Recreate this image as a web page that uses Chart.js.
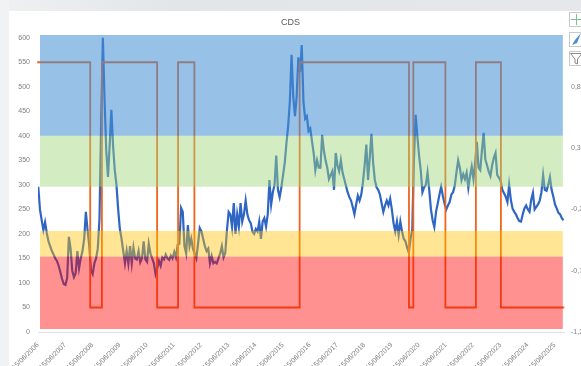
<!DOCTYPE html>
<html>
<head>
<meta charset="utf-8">
<title>CDS</title>
<script src="https://cdn.jsdelivr.net/npm/chart.js@4"></script>
<style>
    html, body { margin: 0; padding: 0; background: #ffffff; overflow: hidden; }
    #topBar { position: fixed; left: 0; top: 0; width: 581px; height: 11px; background: linear-gradient(90deg, #eef0f2, #e3e6e9 30%, #e5e7ea); }
    #leftBar { position: fixed; left: 0; top: 0; width: 9px; height: 366px; background: #f0f2f4; }
    #wrap { position: fixed; left: 0; top: 0; width: 581px; height: 366px; filter: blur(0.5px); }
    #buttons { position: fixed; left: 569px; top: 12px; }
</style>
</head>
<body>
<div id="topBar"></div>
<div id="leftBar"></div>
<div id="wrap"><canvas id="cdsChart" width="581" height="366"></canvas></div>
<svg id="buttons" width="12" height="56">
    <rect x="0.5" y="0.5" width="15" height="14" fill="#fff" stroke="#c9c9c9"/>
    <path d="M7.5 2V13M2 7.5H14" stroke="#7fbf8f" fill="none"/>
    <rect x="0.5" y="20.5" width="15" height="14" fill="#fff" stroke="#c9c9c9"/>
    <path d="M3 33L6 28L12 21L8 31Z" fill="#4a90d0"/>
    <rect x="0.5" y="39.5" width="15" height="14" fill="#fff" stroke="#c9c9c9"/>
    <path d="M1.5 41.5H13L8.5 47V52L6 51V47Z" fill="#fff" stroke="#8a8a8a"/>
</svg>
<script>
const title = "CDS";

// x ticks, one per year on 15/06
const yearTicks = [2006.45, 2007.45, 2008.45, 2009.45, 2010.45, 2011.45, 2012.45, 2013.45, 2014.45, 2015.45,
    2016.45, 2017.45, 2018.45, 2019.45, 2020.45, 2021.45, 2022.45, 2023.45, 2024.45, 2025.45];
const yearLabels = ["15/06/2006", "15/06/2007", "15/06/2008", "15/06/2009", "15/06/2010", "15/06/2011", "15/06/2012",
    "15/06/2013", "15/06/2014", "15/06/2015", "15/06/2016", "15/06/2017", "15/06/2018", "15/06/2019", "15/06/2020",
    "15/06/2021", "15/06/2022", "15/06/2023", "15/06/2024", "15/06/2025"];
const leftTicks = [0, 50, 100, 150, 200, 250, 300, 350, 400, 450, 500, 550, 600];
const rightTicks = [-1.2, -0.7, -0.2, 0.3, 0.8];

// CDS level, 16 readings a year from mid 2006
const cdsStart = 2006.46;
const cdsPerYear = 16;
const cdsValues = [
    296, 250, 228, 208, 224, 202, 185, 175, 165, 158, 150, 145, 135, 122, 108, 98,
    96, 110, 194, 170, 125, 112, 120, 165, 130, 150, 165, 190, 245, 208, 175, 126,
    118, 140, 150, 170, 230, 430, 600, 473, 370, 316, 380, 453, 380, 330, 300, 250,
    210, 190, 165, 140, 165, 140, 175, 140, 172, 150, 148, 165, 142, 150, 185, 148,
    143, 180, 160, 150, 140, 118, 130, 145, 135, 152, 148, 158, 150, 147, 156, 150,
    163, 152, 178, 180, 253, 245, 175, 160, 218, 175, 190, 170, 160, 150, 180, 212,
    205, 190, 175, 165, 170, 140, 155, 140, 143, 140, 150, 160, 175, 152, 161, 208,
    245, 240, 214, 263, 200, 240, 215, 263, 225, 240, 268, 240, 228, 222, 205, 200,
    210, 205, 225, 190, 225, 232, 215, 240, 310, 260, 285, 300, 360, 290, 275, 295,
    320, 345, 385, 420, 470, 565, 480, 440, 480, 560, 530, 585, 470, 435, 440, 410,
    415, 390, 365, 330, 350, 335, 335, 402, 370, 350, 335, 312, 320, 328, 290, 365,
    340, 328, 350, 325, 312, 298, 285, 275, 268, 255, 240, 260, 278, 268, 280, 305,
    340, 382, 310, 355, 404, 345, 310, 295, 290, 280, 262, 245, 258, 268, 258, 272,
    250, 222, 205, 225, 198, 225, 205, 190, 185, 172, 162, 190, 208, 350, 443, 400,
    360, 330, 285, 295, 300, 325, 290, 250, 228, 214, 245, 262, 280, 296, 278, 262,
    250, 258, 265, 280, 285, 298, 325, 350, 335, 310, 322, 312, 325, 294, 318, 337,
    312, 345, 388, 335, 330, 370, 406, 352, 340, 327, 318, 340, 355, 365, 320, 315,
    308, 290, 283, 276, 265, 300, 270, 252, 245, 240, 232, 226, 225, 240, 252, 258,
    250, 245, 270, 284, 250, 255, 260, 268, 285, 320, 290, 288, 300, 316, 290, 276,
    260, 252, 243, 240, 232, 228
];

// regime signal on the right axis, +1 or -1 from each date on
const regimeDates = [2006.42, 2008.37, 2008.80, 2010.83, 2011.60, 2012.20, 2016.07, 2020.09, 2020.25, 2021.43, 2022.55, 2023.47, 2025.80];
const regimeValues = [1, -1, 1, -1, 1, -1, 1, -1, 1, -1, 1, -1, -1];

// coloured bands, on the left axis
const bandDates = [2006.52, 2025.75];
const bandTops = [606, 400, 206, 154];
const bandBottoms = [400, 296, 154, 6];
const bandColors = ["rgba(70,145,210,0.56)", "rgba(160,212,120,0.45)", "rgba(255,192,0,0.42)", "rgba(255,0,0,0.43)"];

const cdsPoints = [];
for (let i = 0; i < cdsValues.length; i++) {
    cdsPoints.push({ x: cdsStart + i / cdsPerYear, y: cdsValues[i] });
}

const regimePoints = [];
for (let i = 0; i < regimeDates.length; i++) {
    regimePoints.push({ x: regimeDates[i], y: regimeValues[i] });
}

const datasets = [
    {
        label: "CDS",
        data: cdsPoints,
        borderColor: "#2f66c4",
        borderWidth: 2.2,
        pointRadius: 0,
        order: 6
    },
    {
        label: "Signal",
        data: regimePoints,
        yAxisID: "y2",
        stepped: true,
        clip: false,
        borderColor: "#f0641e",
        borderWidth: 1.8,
        pointRadius: 0,
        order: 5
    }
];

// the bands sit on top of the lines and tint them
for (let b = 0; b < bandTops.length; b++) {
    datasets.push({
        label: "band" + b,
        data: bandDates.map(d => ({ x: d, y: bandTops[b] })),
        borderWidth: 0,
        pointRadius: 0,
        backgroundColor: bandColors[b],
        fill: { value: bandBottoms[b] },
        order: 1
    });
}

new Chart(document.querySelector("#cdsChart"), {
    type: "line",
    data: { datasets: datasets },
    options: {
        responsive: false,
        animation: false,
        layout: { padding: { top: 0, left: 0, right: 0, bottom: 0 } },
        plugins: {
            legend: { display: false },
            tooltip: { enabled: false },
            title: {
                display: true,
                text: title,
                color: "#595959",
                font: { family: "Liberation Sans", size: 9, weight: "normal" },
                padding: { top: 17, bottom: 7 }
            }
        },
        scales: {
            x: {
                type: "linear",
                min: 2006.45,
                max: 2025.79,
                afterBuildTicks: axis => { axis.ticks = yearTicks.map(v => ({ value: v })); },
                afterFit: axis => { axis.height = 34; },
                grid: { display: false },
                border: { display: true, color: "#e2e2e2" },
                ticks: {
                    color: "#7f7f7f",
                    font: { family: "Liberation Sans", size: 7 },
                    autoSkip: false,
                    minRotation: 45,
                    maxRotation: 45,
                    padding: 1,
                    callback: (value, i) => yearLabels[i]
                }
            },
            y: {
                min: 0,
                max: 606,
                afterBuildTicks: axis => { axis.ticks = leftTicks.map(v => ({ value: v })); },
                afterFit: axis => { axis.width = 38; },
                grid: { display: false, tickLength: 0 },
                border: { display: false },
                ticks: {
                    color: "#7f7f7f",
                    font: { family: "Liberation Sans", size: 7 },
                    padding: 8
                }
            },
            y2: {
                position: "right",
                min: -1.2,
                max: 1.224,
                afterBuildTicks: axis => { axis.ticks = rightTicks.map(v => ({ value: v })); },
                afterFit: axis => { axis.width = 17; },
                grid: { display: false, tickLength: 0 },
                border: { display: false },
                ticks: {
                    color: "#7f7f7f",
                    font: { family: "Liberation Sans", size: 7 },
                    padding: 7,
                    callback: value => String(value).replace(".", ",")
                }
            }
        }
    }
});
</script>
</body>
</html>
